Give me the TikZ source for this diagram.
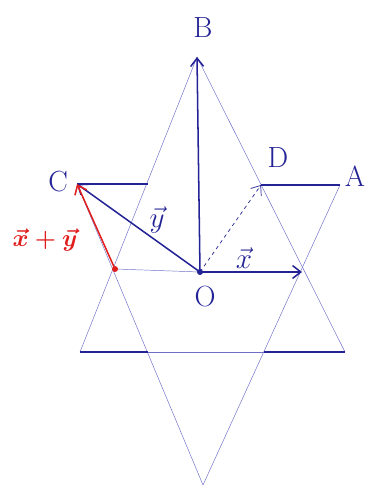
\documentclass[tikz,border=0pt]{standalone}
\usetikzlibrary{arrows.meta}
\definecolor{ink}{RGB}{35,35,150}
\definecolor{paleink}{RGB}{110,110,200}
\definecolor{redink}{RGB}{225,30,30}
\begin{document}
\begin{tikzpicture}[x=0.03cm,y=-0.03cm,
  guide/.style={draw=paleink,line width=0.4pt},
  edge/.style={draw=ink,line width=1.6pt},
  vec/.style={draw=ink,line width=1.3pt,-{Straight Barb[length=7pt,width=11pt]}},
  lbl/.style={text=ink,font=\Huge}]
\useasboundingbox (0,0) rectangle (373,489);
% points of the star
\coordinate (O) at (200,272);
\coordinate (B) at (197,57);
\coordinate (C) at (77,184);
\coordinate (A) at (340,185);
\coordinate (D) at (261,185);
\coordinate (X) at (302,272);
\coordinate (P) at (115,269);
\coordinate (L) at (80,352);
\coordinate (R) at (345,352);
\coordinate (V) at (203,485);
\coordinate (E) at (148,184);
\coordinate (F) at (148,352);
\coordinate (G) at (264,352);
% labels
\node[lbl] (labB) at (203,28) {B};
\node[lbl] (labC) at (58,182) {C};
\node[lbl] (labD) at (278,158) {D};
\node[lbl] (labA) at (355,176) {A};
\node[lbl] (labO) at (205,297) {O};
\node[lbl] (labx) at (244,258) {$\vec{x}$};
\node[lbl] (laby) at (157,220) {$\vec{y}$};
\node[text=redink,font=\huge\boldmath,inner sep=1pt] (labxy) at (45,240) {$\vec{x}+\vec{y}$};

% thin lines of the two triangles
\draw[guide] (B) -- (L);
\draw[guide] (B) -- (R);
\draw[guide] (C) -- (V);
\draw[guide] (A) -- (V);
\draw[guide] (F) -- (G);
\draw[guide] (P) -- (O);
% thick sides
\draw[edge] (C) -- (E);
\draw[edge] (D) -- (A);
\draw[edge] (L) -- (F);
\draw[edge] (G) -- (R);
% vectors
\draw[vec] (O) -- (B);
\draw[vec] (O) -- (C);
\draw[vec] (O) -- (X);
\draw[vec,dashed,line width=0.6pt] (O) -- (D);
\draw[vec,draw=redink] (P) -- (C);
\fill[redink] (P) circle (3);
\fill[ink] (O) circle (3);
\end{tikzpicture}
\end{document}
